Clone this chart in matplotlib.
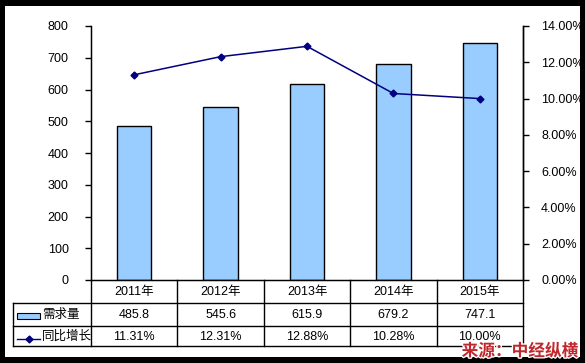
"""
需求量及同比增长 - 柱状图 + 折线 + 数据表
"""
import matplotlib
matplotlib.use('Agg')
import matplotlib.pyplot as plt
import matplotlib.patheffects as pe
from matplotlib.patches import Rectangle
from matplotlib.lines import Line2D
from matplotlib.ticker import FuncFormatter

plt.rcParams['font.family'] = ['Liberation Sans', 'Noto Sans CJK SC', 'DejaVu Sans']

# 数据
years = ['2011年', '2012年', '2013年', '2014年', '2015年']
demand = [485.8, 545.6, 615.9, 679.2, 747.1]
growth = [11.31, 12.31, 12.88, 10.28, 10.00]
demand_labels = ['485.8', '545.6', '615.9', '679.2', '747.1']
growth_labels = ['11.31%', '12.31%', '12.88%', '10.28%', '10.00%']

W, H = 585, 363
bar_color = '#99CCFF'
line_color = '#000080'


def fx(x):
    return x / W


def fy(y):
    return 1 - y / H


fig = plt.figure(figsize=(W / 100, H / 100), dpi=100)
fig.patch.set_facecolor('black')
fig.patches.append(Rectangle((fx(5), fy(357)), fx(575), (357 - 6) / H,
                             transform=fig.transFigure, facecolor='white',
                             edgecolor='none', zorder=-5))

# 主坐标轴
L, R, T, B = 91, 523, 26, 280
ax = fig.add_axes([fx(L), fy(B), (R - L) / W, (B - T) / H])
ax.set_facecolor('none')
x = list(range(len(years)))
ax.bar(x, demand, width=0.4, color=bar_color, edgecolor='black', linewidth=1, zorder=2)
ax.set_xlim(-0.5, len(years) - 0.5)
ax.set_ylim(0, 800)
ax.set_yticks(range(0, 801, 100))
ax.set_xticks([])
ax.spines['top'].set_visible(False)
for s in ['left', 'bottom', 'right']:
    ax.spines[s].set_linewidth(1)
ax.tick_params(axis='y', direction='out', length=4, width=1, labelsize=9, pad=12)

ax2 = ax.twinx()
ax2.plot(x, [g / 100 for g in growth], color=line_color, marker='D', markersize=3.5,
         linewidth=1.1, zorder=3)
ax2.set_ylim(0, 0.14)
ax2.set_yticks([i * 0.02 for i in range(8)])
ax2.yaxis.set_major_formatter(FuncFormatter(lambda v, p: f'{v * 100:.2f}%'))
ax2.spines['top'].set_visible(False)
ax2.spines['right'].set_linewidth(1)
ax2.tick_params(axis='y', direction='out', length=4, width=1, labelsize=9, pad=9)

# 数据表
col_w = (R - L) / len(years)
tl = dict(transform=fig.transFigure, color='black', linewidth=1)
# 横线
for yy in [303, 326, 346]:
    fig.lines.append(Line2D([fx(13), fx(R)], [fy(yy), fy(yy)], **tl))
# 竖线
fig.lines.append(Line2D([fx(13), fx(13)], [fy(303), fy(346)], **tl))
for i in range(len(years) + 1):
    xc = L + i * col_w
    fig.lines.append(Line2D([fx(xc), fx(xc)], [fy(280), fy(346)], **tl))

for i in range(len(years)):
    xc = L + (i + 0.5) * col_w
    fig.text(fx(xc), fy(292), years[i], ha='center', va='center', fontsize=9)
    fig.text(fx(xc), fy(315), demand_labels[i], ha='center', va='center', fontsize=9)
    fig.text(fx(xc), fy(337), growth_labels[i], ha='center', va='center', fontsize=9)

# 图例键
fig.patches.append(Rectangle((fx(17), fy(319)), 23 / W, 6 / H, transform=fig.transFigure,
                             facecolor=bar_color, edgecolor='black', linewidth=0.8))
fig.text(fx(42), fy(315), '需求量', ha='left', va='center', fontsize=9)
fig.lines.append(Line2D([fx(17), fx(40)], [fy(339), fy(339)], transform=fig.transFigure,
                        color=line_color, linewidth=1))
fig.lines.append(Line2D([fx(29)], [fy(339)], transform=fig.transFigure, color=line_color,
                        marker='D', markersize=3.5, linestyle='none'))
fig.text(fx(42), fy(337), '同比增长', ha='left', va='center', fontsize=9)

# 水印
fig.text(fx(578), fy(351), '来源：中经纵横', ha='right', va='center', fontsize=12,
         fontweight='bold', color='#C0272D', family=['Noto Sans CJK SC'],
         path_effects=[pe.withStroke(linewidth=2, foreground='white')])

fig.savefig('out.png', dpi=100, facecolor=fig.get_facecolor())
